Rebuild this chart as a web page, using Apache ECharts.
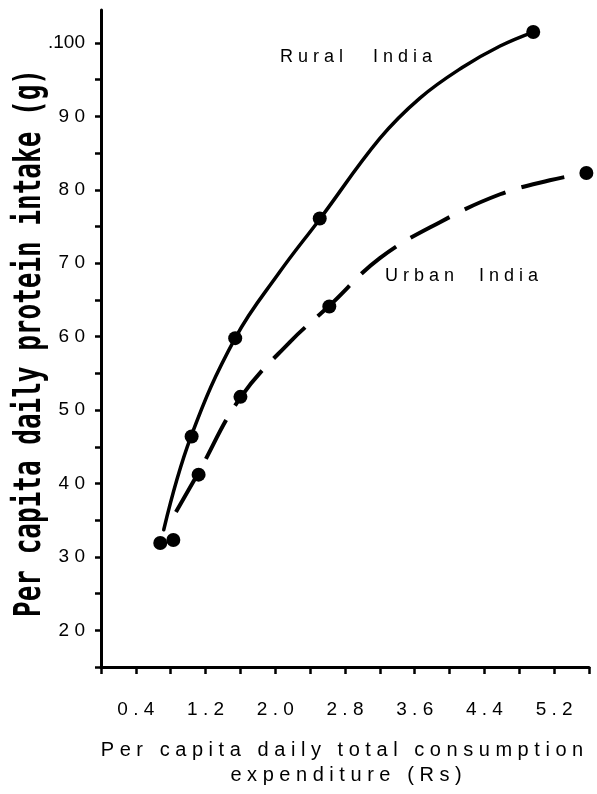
<!DOCTYPE html>
<html>
<head>
<meta charset="utf-8">
<script src="https://cdn.jsdelivr.net/npm/echarts@6/dist/echarts.min.js"></script>
<style>
  html, body { margin: 0; padding: 0; background: #fff; }
  #chart { width: 597px; height: 794px; }
</style>
</head>
<body>
<div id="chart"></div>
<script>
// Fitted curves (x = Rs per day, y = grams of protein)
const ruralCurve = [[0.72, 33.7], [1.03, 46.3], [1.54, 59.8], [2.05, 68.8], [2.51, 76.0],
                    [3.20, 87.0], [3.66, 92.5], [4.15, 96.7], [4.58, 99.6], [4.96, 101.5]];
const urbanCurve = [[0.86, 36.1], [1.11, 41.3], [1.60, 51.7], [2.17, 59.3], [2.62, 64.2],
                    [3.20, 70.7], [3.89, 75.6], [4.58, 79.4], [5.15, 81.3], [5.58, 82.3]];

// Observed group means
const ruralPoints = [[0.68, 31.9], [1.04, 46.4], [1.54, 59.8], [2.51, 76.1], [4.96, 101.5]];
const urbanPoints = [[0.83, 32.3], [1.12, 41.2], [1.60, 51.8], [2.62, 64.1], [5.57, 82.3]];

// Tick labels
const xTickLabels = ['0.4', '1.2', '2.0', '2.8', '3.6', '4.4', '5.2'];
const yTickValues = [20, 30, 40, 50, 60, 70, 80, 90, 100];
const yTickLabels = ['20', '30', '40', '50', '60', '70', '80', '90', '.100'];

// Text labels
const ruralLabel = 'Rural India';
const urbanLabel = 'Urban India';
const xTitleLines = ['Per capita daily total consumption', 'expenditure (Rs)'];
const yTitle = 'Per capita daily protein intake (g)';

// Widely tracked lettering: a space between letters, a wider gap between words
function track(s, wordGap) {
  return s.split(' ').map(w => w.split('').join(' ')).join(wordGap);
}

const SANS = '"Liberation Sans", Arial, sans-serif';
const chart = echarts.init(document.getElementById('chart'), null, { renderer: 'canvas' });

chart.setOption({
  backgroundColor: '#fff',
  animation: false,
  grid: { left: 101, right: 8, top: 10, bottom: 127, containLabel: false },
  xAxis: {
    type: 'value',
    min: 0, max: 5.6, interval: 0.4,
    splitLine: { show: false },
    axisLine: { show: true, onZero: false, lineStyle: { color: '#000', width: 3 } },
    axisTick: { show: true, length: 7, lineStyle: { color: '#000', width: 2.5 } },
    axisLabel: {
      show: true, margin: 33, color: '#000', fontFamily: SANS, fontSize: 19,
      showMinLabel: true, showMaxLabel: true, hideOverlap: false,
      formatter: v => {
        const hit = xTickLabels.find(l => Math.abs(parseFloat(l) - v) < 1e-6);
        return hit ? track(hit, ' ') : '';
      }
    }
  },
  yAxis: {
    type: 'value',
    min: 15, max: 104.5, interval: 5,
    splitLine: { show: false },
    axisLine: { show: true, onZero: false, lineStyle: { color: '#000', width: 3 } },
    axisTick: { show: true, length: 6, lineStyle: { color: '#000', width: 2.5 } },
    axisLabel: {
      show: true, margin: 16, color: '#000', fontFamily: SANS, fontSize: 19,
      showMinLabel: true, showMaxLabel: false, hideOverlap: false,
      formatter: v => {
        const i = yTickValues.findIndex(t => Math.abs(t - v) < 1e-6);
        if (i < 0) return '';
        const l = yTickLabels[i];
        return l.length > 2 ? l : track(l, ' ');
      }
    }
  },
  series: [
    {
      name: 'Rural India fit', type: 'line', data: ruralCurve,
      smooth: 0.4, showSymbol: false, silent: true,
      lineStyle: { color: '#000', width: 3.5, cap: 'round' }
    },
    {
      name: 'Urban India fit', type: 'line', data: urbanCurve,
      smooth: 0.4, showSymbol: false, silent: true,
      lineStyle: { color: '#000', width: 4, type: [44, 17], cap: 'butt' }
    },
    {
      name: 'Rural India', type: 'scatter', data: ruralPoints,
      symbol: 'circle', symbolSize: 14, itemStyle: { color: '#000', opacity: 1 }, z: 5
    },
    {
      name: 'Urban India', type: 'scatter', data: urbanPoints,
      symbol: 'circle', symbolSize: 14, itemStyle: { color: '#000', opacity: 1 }, z: 5
    }
  ],
  graphic: [
    {
      type: 'text', left: 280, top: 48,
      style: { text: track(ruralLabel, '      '), fill: '#000', fontFamily: SANS, fontSize: 18 }
    },
    {
      type: 'text', left: 385, top: 267,
      style: { text: track(urbanLabel, '     '), fill: '#000', fontFamily: SANS, fontSize: 18 }
    },
    {
      type: 'text', x: 342, y: 750,
      style: {
        text: track(xTitleLines[0], '   '), fill: '#000', fontFamily: SANS, fontSize: 20,
        align: 'center', verticalAlign: 'middle', textAlign: 'center', textVerticalAlign: 'middle'
      }
    },
    {
      type: 'text', x: 346, y: 775,
      style: {
        text: track(xTitleLines[1], '   '), fill: '#000', fontFamily: SANS, fontSize: 20,
        align: 'center', verticalAlign: 'middle', textAlign: 'center', textVerticalAlign: 'middle'
      }
    },
    {
      type: 'text', x: 31, y: 343, rotation: Math.PI / 2, scaleY: 1.4,
      style: {
        text: yTitle, fill: '#000', fontFamily: '"DejaVu Sans Mono", monospace',
        fontWeight: 'bold', fontSize: 26,
        align: 'center', verticalAlign: 'middle', textAlign: 'center', textVerticalAlign: 'middle'
      }
    }
  ]
});
</script>
</body>
</html>
